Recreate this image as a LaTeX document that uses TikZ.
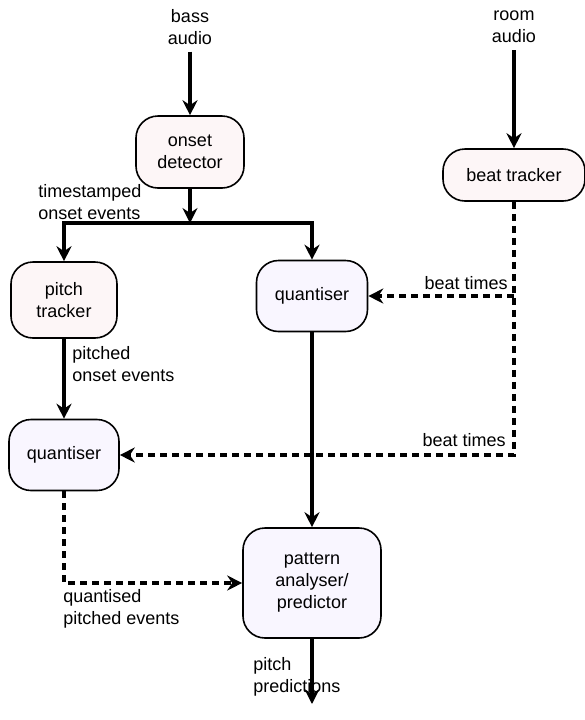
\documentclass[tikz,border=0pt]{standalone}
\usepackage{fontspec}
\setmainfont{Liberation Sans}
\usetikzlibrary{arrows.meta}
\definecolor{pinkfill}{HTML}{FDF6F7}
\definecolor{lilacfill}{HTML}{F9F6FF}

\begin{document}
\begin{tikzpicture}[x=0.5pt, y=-0.5pt,
    every node/.style={font=\fontsize{9}{11}\selectfont, align=center},
    box/.style={draw, line width=0.8pt, rounded corners=11pt, inner sep=0pt},
    flow/.style={line width=1.6pt, -{Stealth[length=7.5pt, width=7.5pt, inset=2.5pt]}},
    dflow/.style={flow, dash pattern=on 3.5pt off 2.5pt},
    note/.style={align=left, inner sep=0pt}
  ]
  \useasboundingbox (0,0) rectangle (585,720);
  \node (bass) at (190,27) {bass\\audio};
  \node (room) at (514,27) {room\\audio};
  \node[box, fill=pinkfill, minimum width=54pt, minimum height=36pt] (onset) at (190,152) {onset\\detector};
  \node[box, fill=pinkfill, minimum width=71pt, minimum height=26pt] (beat) at (514,175) {beat tracker};
  \node[box, fill=pinkfill, minimum width=53pt, minimum height=38pt] (pitch) at (64,300) {pitch\\tracker};
  \node[box, fill=lilacfill, minimum width=55.5pt, minimum height=35.5pt] (quantA) at (312,296) {quantiser};
  \node[box, fill=lilacfill, minimum width=55pt, minimum height=35.5pt] (quantB) at (64,455) {quantiser};
  \node[box, fill=lilacfill, minimum width=69pt, minimum height=55pt] (pattern) at (312,583) {pattern\\analyser/\\predictor};
  \coordinate (split) at (190,223);
  \coordinate (bcorner) at (514,455);
  \coordinate (out) at (312,704);

  \draw[flow] (bass) -- (onset);
  \draw[flow] (room) -- (beat);
  \draw[flow] (onset) -- (split);
  \draw[flow] (split) -| (pitch);
  \draw[flow] (split) -| (quantA);
  \draw[flow] (pitch) -- (quantB);
  \draw[flow] (quantA) -- (pattern);
  \draw[flow] (pattern) -- (out);
  \draw[dflow] (beat) -- (bcorner) -- (quantB);
  \draw[dflow] (beat.south |- quantA) -- (quantA);
  \draw[dflow] (quantB) |- (pattern);

  \node[note, anchor=west] (tsLabel) at (38,202) {timestamped\\onset events};
  \node[note, anchor=west] (poLabel) at (72,364) {pitched\\onset events};
  \node[note, anchor=east] (btLabelA) at (508,283) {beat times};
  \node[note, anchor=east] (btLabelB) at (506,440) {beat times};
  \node[note, anchor=west] (qpLabel) at (63,609) {quantised\\pitched events};
  \node[note, anchor=west] (ppLabel) at (253,677) {pitch\\predictions};
\end{tikzpicture}
\end{document}
